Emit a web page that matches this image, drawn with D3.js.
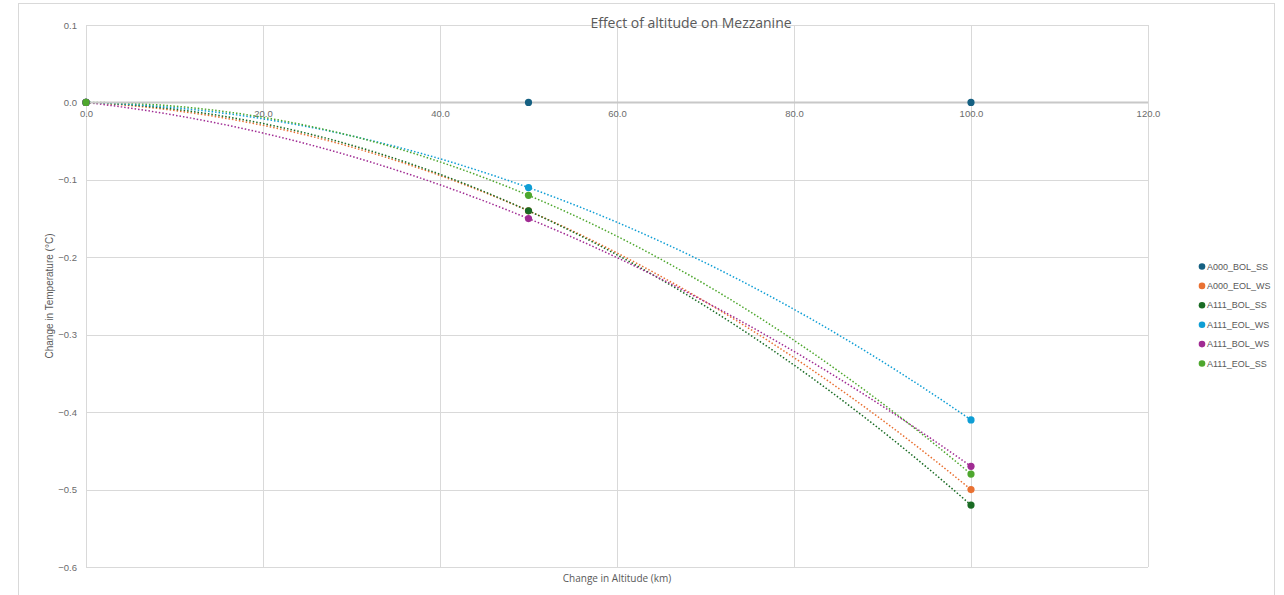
<!DOCTYPE html>
<html>
<head>
<meta charset="utf-8">
<script src="https://cdn.jsdelivr.net/npm/d3@7"></script>
<style>
  html, body { margin: 0; padding: 0; background: #fff; }
  svg { display: block; }
  text { font-family: "Liberation Sans", Arial, sans-serif; fill: #595959; }
</style>
</head>
<body>
<svg id="chart" width="1284" height="595"></svg>
<script>
// ---- data ----
const altitudes = [0, 50, 100];
const seriesNames = ["A000_BOL_SS", "A000_EOL_WS", "A111_BOL_SS", "A111_EOL_WS", "A111_BOL_WS", "A111_EOL_SS"];
const seriesColors = ["#156082", "#E97132", "#196B24", "#0F9ED5", "#A02B93", "#4EA72E"];
const A000_BOL_SS = [0, 0, 0];
const A000_EOL_WS = [0, -0.14, -0.50];
const A111_BOL_SS = [0, -0.14, -0.52];
const A111_EOL_WS = [0, -0.11, -0.41];
const A111_BOL_WS = [0, -0.15, -0.47];
const A111_EOL_SS = [0, -0.12, -0.48];
const seriesValues = [A000_BOL_SS, A000_EOL_WS, A111_BOL_SS, A111_EOL_WS, A111_BOL_WS, A111_EOL_SS];
const xTicks = [0, 20, 40, 60, 80, 100, 120];
const yTicks = [0.1, 0.0, -0.1, -0.2, -0.3, -0.4, -0.5, -0.6];
const titleText = "Effect of altitude on Mezzanine";
const xTitle = "Change in Altitude (km)";
const yTitle = "Change in Temperature (°C)";

// ---- layout ----
const svg = d3.select("#chart");
const plot = { left: 86, right: 1148, top: 25, bottom: 567 };
const x = d3.scaleLinear().domain([0, 120]).range([plot.left, plot.right]);
const y = d3.scaleLinear().domain([-0.6, 0.1]).range([plot.bottom, plot.top]);

// outer chart border
svg.append("rect").attr("x", 18.5).attr("y", 3.5).attr("width", 1256).attr("height", 600)
  .attr("fill", "none").attr("stroke", "#d9d9d9").attr("stroke-width", 1);

// gridlines
const grid = svg.append("g");
grid.selectAll("line.h").data(yTicks).join("line")
  .attr("x1", plot.left).attr("x2", plot.right)
  .attr("y1", d => Math.round(y(d)) + 0.5).attr("y2", d => Math.round(y(d)) + 0.5)
  .attr("stroke", "#d9d9d9").attr("stroke-width", 1);
grid.selectAll("line.v").data(xTicks).join("line")
  .attr("y1", plot.top).attr("y2", plot.bottom)
  .attr("x1", d => Math.round(x(d)) + 0.5).attr("x2", d => Math.round(x(d)) + 0.5)
  .attr("stroke", "#d9d9d9").attr("stroke-width", 1);

// y tick labels
const yAxis = d3.axisLeft(y).tickValues(yTicks).tickSize(0).tickPadding(9).tickFormat(d3.format(".1f"));
const gy = svg.append("g").attr("transform", `translate(${plot.left},0)`).call(yAxis);
gy.select(".domain").remove();
gy.selectAll("text").style("font-size", "9.5px").style("fill", "#6b6b6b")
  .style("font-family", '"Liberation Sans", Arial, sans-serif');

// x tick labels (just below zero line)
const xAxis = d3.axisBottom(x).tickValues(xTicks).tickSize(0).tickPadding(8).tickFormat(d3.format(".1f"));
const gx = svg.append("g").attr("transform", `translate(0,${y(0)})`).call(xAxis);
gx.select(".domain").remove();
gx.selectAll("text").style("font-size", "9.5px").style("fill", "#6b6b6b")
  .style("font-family", '"Liberation Sans", Arial, sans-serif');

// trendlines: order-2 polynomial through the three points (exact fit)
function polyFit(xs, ys) {
  return t => {
    let s = 0;
    for (let i = 0; i < 3; i++) {
      let l = 1;
      for (let j = 0; j < 3; j++) if (j !== i) l *= (t - xs[j]) / (xs[i] - xs[j]);
      s += ys[i] * l;
    }
    return s;
  };
}
const line = d3.line().x(d => x(d[0])).y(d => y(d[1]));
const trendG = svg.append("g");
seriesValues.forEach((vals, i) => {
  if (vals.every(v => v === 0)) return; // flat series hidden under the axis line
  const f = polyFit(altitudes, vals);
  const pts = d3.range(0, 100.01, 1).map(t => [t, f(t)]);
  trendG.append("path").datum(pts).attr("d", line)
    .attr("fill", "none").attr("stroke", seriesColors[i])
    .attr("stroke-width", 1.5).attr("stroke-dasharray", "1.5,2");
});

// x axis line at y=0
svg.append("line").attr("x1", plot.left).attr("x2", plot.right)
  .attr("y1", Math.round(y(0)) + 0.5).attr("y2", Math.round(y(0)) + 0.5)
  .attr("stroke", "#c8c8c8").attr("stroke-width", 2);

// markers
const markG = svg.append("g");
seriesValues.forEach((vals, i) => {
  markG.selectAll(null).data(vals.map((v, k) => [altitudes[k], v])).join("circle")
    .attr("cx", d => x(d[0])).attr("cy", d => y(d[1])).attr("r", 3.6)
    .attr("fill", seriesColors[i]);
});

// title
svg.append("text").attr("x", 691).attr("y", 28).attr("text-anchor", "middle")
  .style("font-family", '"Open Sans", "Noto Sans", sans-serif').style("font-size", "14px")
  .text(titleText);

// axis titles
svg.append("text").attr("x", (plot.left + plot.right) / 2).attr("y", 582).attr("text-anchor", "middle")
  .style("font-family", '"Open Sans", "Noto Sans", sans-serif').style("font-size", "10px")
  .text(xTitle);
svg.append("text").attr("transform", `translate(53,${(plot.top + plot.bottom) / 2}) rotate(-90)`)
  .attr("text-anchor", "middle").style("font-size", "10px")
  .text(yTitle);

// legend
const legend = svg.append("g");
seriesNames.forEach((name, i) => {
  const ly = 266.5 + i * 19.4;
  legend.append("circle").attr("cx", 1202).attr("cy", ly).attr("r", 3.3).attr("fill", seriesColors[i]);
  legend.append("text").attr("x", 1207).attr("y", ly).attr("dy", "0.35em")
    .style("font-size", "9px").text(name);
});
</script>
</body>
</html>
